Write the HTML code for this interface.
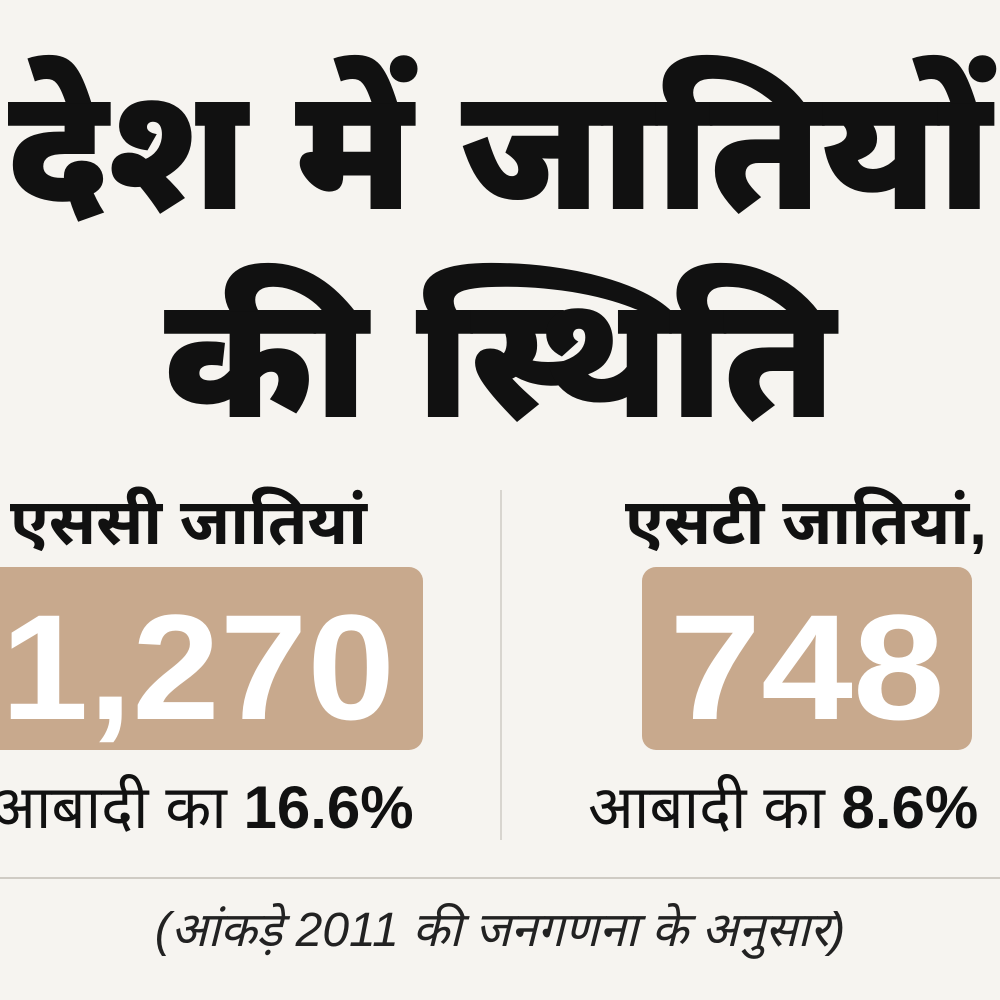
<!DOCTYPE html>
<html><head><meta charset="utf-8"><style>
html,body{margin:0;padding:0}
body{width:1000px;height:1000px;background:#f6f4f0;position:relative;overflow:hidden;font-family:"Liberation Sans","Noto Sans Devanagari","Lohit Devanagari",sans-serif;color:#111}
.a{position:absolute;white-space:nowrap}
.t{font-weight:900;font-size:172px;line-height:1}
.box{position:absolute;background:#c8a98d;border-radius:14px}
.num{color:#fff;font-weight:900;font-size:150px;line-height:1;font-family:"Liberation Sans",sans-serif}
.lab{font-size:64px;font-weight:700;line-height:1}
.pop{font-size:60px;line-height:1}
</style></head><body>
<div class="a t" style="left:8px;top:64px">देश में जातियों</div>
<div class="a t" style="left:0;top:272px;width:1000px;text-align:center">की स्थिति</div>

<div class="a lab" style="left:10px;top:490px">एससी जातियां</div>
<div class="box" style="left:-20px;top:567px;width:443px;height:183px"></div>
<div class="a num" style="left:-20px;top:592px;width:415px;text-align:right;transform:scaleX(1.05);transform-origin:right">1,270</div>
<div class="a pop" style="left:-10px;top:778px">आबादी का <b>16.6%</b></div>

<div class="a" style="left:500px;top:490px;width:2px;height:350px;background:#d8d5cf"></div>

<div class="a lab" style="left:625px;top:490px">एसटी जातियां,</div>
<div class="box" style="left:642px;top:567px;width:330px;height:183px"></div>
<div class="a num" style="left:642px;top:592px;width:330px;text-align:center;transform:scaleX(1.1)">748</div>
<div class="a pop" style="left:588px;top:778px">आबादी का <b>8.6%</b></div>

<div class="a" style="left:0;top:877px;width:1000px;height:2px;background:#cfcbc4"></div>
<div class="a" style="left:0;top:903px;width:1000px;text-align:center;font-size:48px;font-style:italic;color:#222">(आंकड़े 2011 की जनगणना के अनुसार)</div>
</body></html>
